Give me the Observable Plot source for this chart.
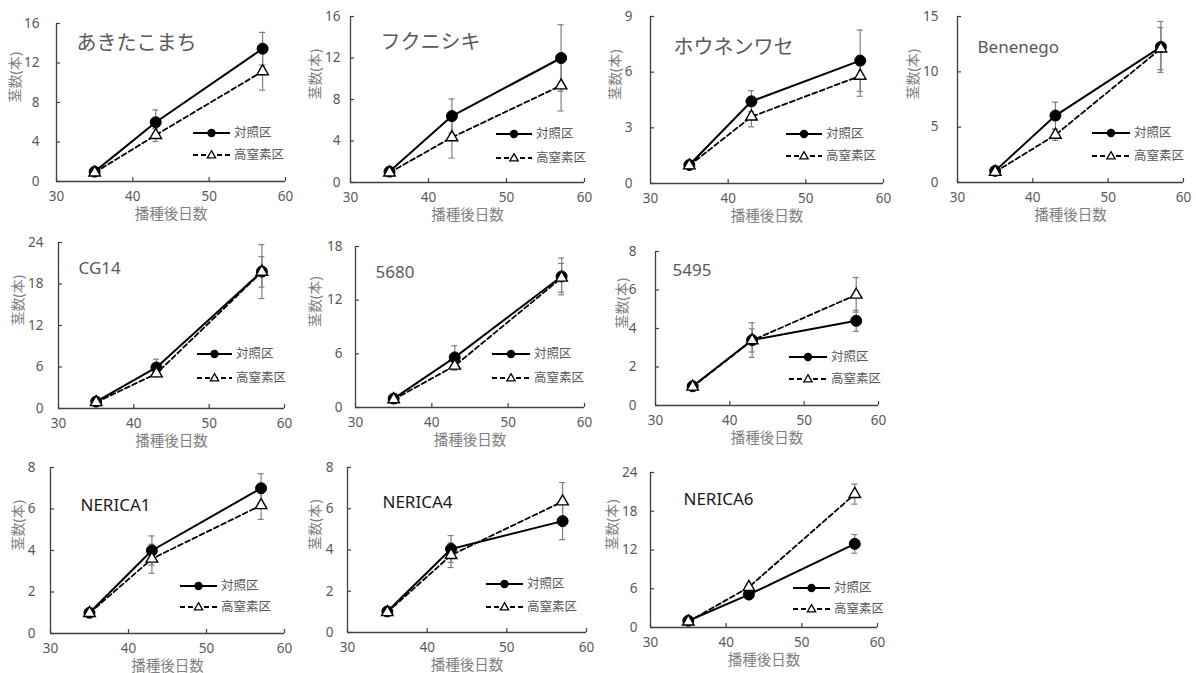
<!DOCTYPE html>
<html><head><meta charset="utf-8">
<script src="https://cdn.jsdelivr.net/npm/d3@7"></script>
<script src="https://cdn.jsdelivr.net/npm/@observablehq/plot@0.6"></script>
<style>
body{margin:0;background:#fff;}
#root{position:relative;width:1196px;height:673px;overflow:hidden;font-family:"Noto Sans","Noto Sans CJK JP",sans-serif;}
</style></head><body><div id="root"></div>
<script>
// ---- data ----
const days = [35, 43, 57];
const xTicks = [30, 40, 50, 60];
const cultivars = ["あきたこまち","フクニシキ","ホウネンワセ","Benenego","CG14","5680","5495","NERICA1","NERICA4","NERICA6"];
const seriesNames = ["対照区", "高窒素区"];
const yMax  = [16, 16, 9, 15, 24, 18, 8, 8, 8, 24];
const yStep = [4, 4, 3, 5, 6, 6, 2, 2, 2, 6];
const control = [
  [1.0, 6.0, 13.45], [1.05, 6.4, 12.0], [1.0, 4.43, 6.62], [1.05, 6.05, 12.25], [1.0, 5.93, 19.8],
  [1.0, 5.6, 14.65], [1.0, 3.4, 4.4], [1.0, 4.0, 7.0], [1.02, 4.05, 5.4], [1.05, 5.1, 12.95]
];
const controlErr = [
  [0.1, 1.25, 1.65], [0.1, 1.65, 3.2], [0.05, 0.57, 1.65], [0.1, 1.2, 2.3], [0.1, 1.2, 3.9],
  [0.1, 1.3, 2.05], [0.05, 0.9, 0.55], [0.05, 0.7, 0.7], [0.05, 0.65, 0.9], [0.1, 0.3, 1.45]
];
const highN = [
  [0.9, 4.7, 11.15], [0.95, 4.35, 9.35], [0.97, 3.6, 5.8], [0.95, 4.3, 12.1], [0.9, 5.05, 19.75],
  [0.9, 4.66, 14.5], [0.97, 3.38, 5.75], [0.98, 3.6, 6.18], [0.98, 3.75, 6.35], [0.9, 6.25, 20.65]
];
const highNErr = [
  [0.1, 0.65, 1.9], [0.1, 2.0, 2.45], [0.05, 0.55, 1.1], [0.1, 0.5, 1.9], [0.1, 0.5, 2.2],
  [0.1, 0.5, 1.6], [0.05, 0.6, 0.9], [0.05, 0.7, 0.68], [0.05, 0.6, 0.92], [0.1, 0.3, 1.55]
];
const yLabel = "茎数(本)";
const xLabel = "播種後日数";

// ---- layout (page pixels) ----
const frames = [
  [56,285,23,181],[350,584,16,182],[650,883,16,183],[957,1183,16,182],
  [58,284,242,408],[355,584,246,407],[655,878,251,405],
  [50,284,467,633],[347,586,467,632],[650,877,472,627]
];
const tickGap = [17,10,18,19,15,13,19,15,14,13];
const yLabOff = [41,35,35,44,40,40,33,32,32,38];
const titlePos = [[20,20],[30,26],[23,31],[20,31],[20,26],[20,26],[17,19],[30,38],[35,35],[33,27]];
const legendPos = [
  [193,230,133,155],[496,532,134,158],[786,822,134,156],[1092,1130,133,156],
  [197,232,354,378],[492,530,354,378],[789,827,357,379],
  [180,217,586,607],[486,523,584,607],[793,830,588,609]
];
const mL = 60, mR = 20, mT = 12, mB = 50;
const root = document.getElementById("root");
const axisColor = "#404040", textColor = "#595959", labColor = "#7f7f7f", errColor = "#808080";
const ff = '"Noto Sans","Noto Sans CJK JP",sans-serif';

cultivars.forEach((name, i) => {
  const [l, r, t, b] = frames[i];
  const pw = r - l, ph = b - t;
  const yT = d3.range(0, yMax[i] + 1e-9, yStep[i]);
  const ctl = days.map((d, j) => ({x: d, y: control[i][j], e: controlErr[i][j]}));
  const hn = days.map((d, j) => ({x: d, y: highN[i][j], e: highNErr[i][j]}));
  const both = ctl.concat(hn);
  const latin = /^[A-Za-z0-9]/.test(name);
  const svg = Plot.plot({
    width: pw + mL + mR, height: ph + mT + mB,
    marginLeft: mL, marginRight: mR, marginTop: mT, marginBottom: mB,
    style: {background: "transparent", overflow: "visible", fontFamily: ff, color: textColor},
    x: {domain: [30, 60], axis: null},
    y: {domain: [0, yMax[i]], axis: null},
    marks: [
      Plot.text(xTicks, {x: d => d, frameAnchor: "bottom", dy: 19, fontSize: 13.5, fill: textColor, text: d => String(d)}),
      Plot.text(yT, {y: d => d, frameAnchor: "left", dx: -tickGap[i], textAnchor: "end", fontSize: 13.5, fill: textColor, text: d => String(d)}),
      Plot.tickX(xTicks, {x: d => d, insetTop: ph - 4, stroke: axisColor, strokeWidth: 1.2}),
      Plot.tickY(yT, {y: d => d, insetRight: pw - 4, stroke: axisColor, strokeWidth: 1.2}),
      Plot.ruleX([30], {stroke: axisColor, strokeWidth: 1.3}),
      Plot.ruleY([0], {stroke: axisColor, strokeWidth: 1.3}),
      Plot.ruleX(both, {x: "x", y1: d => d.y - d.e, y2: d => d.y + d.e, stroke: errColor, strokeWidth: 1.2}),
      Plot.ruleY(both, {y: d => d.y + d.e, x1: "x", x2: "x", insetLeft: -3, insetRight: -3, stroke: errColor, strokeWidth: 1.2}),
      Plot.ruleY(both, {y: d => d.y - d.e, x1: "x", x2: "x", insetLeft: -3, insetRight: -3, stroke: errColor, strokeWidth: 1.2}),
      Plot.line(hn, {x: "x", y: "y", stroke: "#000", strokeWidth: 1.8, strokeDasharray: "5,3"}),
      Plot.line(ctl, {x: "x", y: "y", stroke: "#000", strokeWidth: 2}),
      Plot.dot(ctl, {x: "x", y: "y", r: 5.5, fill: "#000", stroke: "#000", strokeWidth: 1}),
      Plot.dot(hn, {x: "x", y: "y", symbol: "triangle", r: 4.3, fill: "#fff", stroke: "#000", strokeWidth: 1.4}),
      Plot.text([name], {frameAnchor: "top-left", dx: titlePos[i][0], dy: titlePos[i][1], textAnchor: "start", lineAnchor: "middle",
        fontSize: latin ? 17 : 20, fill: name.startsWith("NERICA") ? "#1a1a1a" : textColor, text: d => d}),
      Plot.text([yLabel], {frameAnchor: "left", dx: -yLabOff[i], rotate: -90, fontSize: 14, fill: labColor, text: d => d}),
      Plot.text([xLabel], {frameAnchor: "bottom", dy: 37, fontSize: 14.5, fill: labColor, text: d => d})
    ]
  });
  svg.style.position = "absolute";
  svg.style.left = (l - mL) + "px";
  svg.style.top = (t - mT) + "px";
  svg.style.maxWidth = "none";
  root.appendChild(svg);
});

// ---- legends overlay ----
const ov = d3.select(root).append("svg")
  .attr("width", 1196).attr("height", 673)
  .style("position", "absolute").style("left", "0px").style("top", "0px").style("pointer-events", "none");
legendPos.forEach(([x1, x2, y1, y2]) => {
  const g = ov.append("g");
  const mx = (x1 + x2) / 2;
  g.append("line").attr("x1", x1).attr("x2", x2).attr("y1", y1).attr("y2", y1).attr("stroke", "#000").attr("stroke-width", 2);
  g.append("circle").attr("cx", mx).attr("cy", y1).attr("r", 4.2).attr("fill", "#000");
  g.append("line").attr("x1", x1).attr("x2", x2).attr("y1", y2).attr("y2", y2).attr("stroke", "#000").attr("stroke-width", 1.8).attr("stroke-dasharray", "5,3");
  g.append("path").attr("d", d3.symbol(d3.symbolTriangle, 30)()).attr("transform", `translate(${mx},${y2 + 0.5})`)
    .attr("fill", "#fff").attr("stroke", "#000").attr("stroke-width", 1.3);
  [y1, y2].forEach((yy, k) => {
    g.append("text").attr("x", x2 + 4).attr("y", yy).attr("dy", "0.35em")
      .attr("font-size", 12.5).attr("fill", textColor)
      .attr("font-family", '"Noto Sans CJK JP","Noto Sans",sans-serif').text(seriesNames[k]);
  });
});
</script></body></html>
